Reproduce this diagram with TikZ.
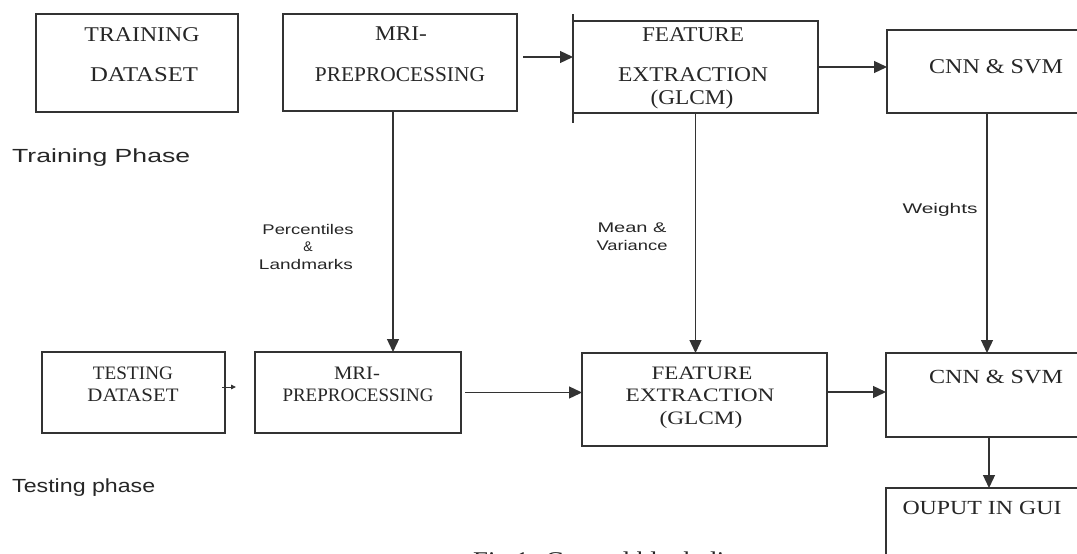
\documentclass[tikz,border=0pt]{standalone}
\usepackage{fontspec}
\setmainfont{Liberation Serif}
\newfontfamily\lsans{Liberation Sans}
\usetikzlibrary{arrows.meta}
\newcommand\fw[2]{\resizebox{#1pt}{\height}{#2}}
\definecolor{lnc}{HTML}{333333}
\definecolor{txc}{HTML}{262626}
\begin{document}
\begin{tikzpicture}[x=1pt,y=1pt,
  box/.style={draw=lnc, line width=1.3pt, inner sep=0pt, outer sep=0pt, anchor=north west},
  conn/.style={draw=lnc, line width=1.3pt},
  arr/.style={conn, -{Triangle[length=13pt,width=12pt]}},
  bigt/.style={font=\fontsize{21}{21}\selectfont, text=txc, inner sep=0pt, anchor=base},
  smt/.style={font=\fontsize{19}{19}\selectfont, text=txc, inner sep=0pt, anchor=base},
  phase/.style={font=\lsans\fontsize{19}{19}\selectfont, text=txc, inner sep=0pt, anchor=base west},
  lbl/.style={font=\lsans\fontsize{14}{14}\selectfont, text=txc, inner sep=0pt, anchor=base}]
\useasboundingbox (0,0) rectangle (1077,-554);
\clip (0,0) rectangle (1077,-554);

% boxes
\node[box, minimum width=202pt, minimum height=98pt] (trainbox) at (36,-14) {};
\node[box, minimum width=234pt, minimum height=97pt] (mri1) at (283,-14) {};
\node[box, minimum width=245pt, minimum height=92pt] (feat1) at (573,-21) {};
\node[box, minimum width=200pt, minimum height=83pt] (cnn1) at (887,-30) {};
\node[box, minimum width=183pt, minimum height=81pt] (testbox) at (42,-352) {};
\node[box, minimum width=206pt, minimum height=81pt] (mri2) at (255,-352) {};
\node[box, minimum width=245pt, minimum height=93pt] (feat2) at (582,-353) {};
\node[box, minimum width=200pt, minimum height=84pt] (cnn2) at (886,-353) {};
\node[box, minimum width=200pt, minimum height=80pt] (outbox) at (886,-488) {};
\draw[conn] ([yshift=7pt]feat1.north west) -- ([yshift=-10pt]feat1.south west);

% box texts, top row
\node[bigt] (t1) at (142,-41) {\fw{115}{TRAINING}};
\node[bigt] (t2) at (144,-81) {\fw{108}{DATASET}};
\node[bigt] (t3) at (401,-41) {\fw{52}{MRI-}};
\node[bigt] (t4) at (400,-81) {\fw{170}{PREPROCESSING}};
\node[bigt] (t5) at (693,-41) {\fw{102}{FEATURE}};
\node[bigt] (t6) at (693,-81) {\fw{150}{EXTRACTION}};
\node[bigt] (t7) at (692,-104.5) {\fw{83}{(GLCM)}};
\node[bigt] (t8) at (996,-73) {\fw{134}{CNN \& SVM}};

% box texts, bottom row
\node[smt] (b1) at (133,-379) {\fw{80}{TESTING}};
\node[smt] (b2) at (133,-401) {\fw{91}{DATASET}};
\node[smt] (b3) at (357,-379) {\fw{46}{MRI-}};
\node[smt] (b4) at (358,-401) {\fw{151}{PREPROCESSING}};
\node[smt] (b5) at (702,-379) {\fw{101}{FEATURE}};
\node[smt] (b6) at (700,-401) {\fw{149}{EXTRACTION}};
\node[smt] (b7) at (701,-424) {\fw{83}{(GLCM)}};
\node[smt, font=\fontsize{20}{20}\selectfont] (b8) at (996,-383) {\fw{134}{CNN \& SVM}};
\node[smt, font=\fontsize{20}{20}\selectfont] (b9) at (982,-514) {\fw{159}{OUPUT IN GUI}};

% connectors
\draw[arr] ([xshift=6pt,yshift=5.5pt]mri1.east) -- ([yshift=5.5pt]mri1.east -| feat1.west);
\draw[arr] (feat1.east) -- (feat1.east -| cnn1.west);
\draw[arr] ([xshift=-7pt]mri1.south) -- ([xshift=-7pt]mri1.south |- mri2.north);
\draw[arr] (feat1.south) -- (feat1.south |- feat2.north);
\draw[arr] (cnn1.south) -- (cnn1.south |- cnn2.north);
\draw[arr] ([xshift=3pt]cnn2.south) -- ([xshift=3pt]cnn2.south |- outbox.north);
\coordinate (tarr) at (236,-387);
\draw[conn, line width=0.9pt, -{Triangle[length=5pt,width=4.5pt]}] ([xshift=-3pt,yshift=5.5pt]testbox.east) -- (tarr);
\draw[arr] ([xshift=4pt]mri2.east) -- (mri2.east -| feat2.west);
\draw[arr] ([yshift=7.5pt]feat2.east) -- ([yshift=7.5pt]feat2.east -| cnn2.west);

% labels
\node[phase] (ph1) at (12,-162) {\fw{178}{Training Phase}};
\node[phase] (ph2) at (12,-492) {\fw{143}{Testing phase}};
\node[lbl] (l1) at (308,-234) {\fw{91}{Percentiles}};
\node[lbl] (l2) at (308,-251) {\&};
\node[lbl] (l3) at (306,-269) {\fw{94}{Landmarks}};
\node[lbl] (l4) at (632,-232) {\fw{69}{Mean \&}};
\node[lbl] (l5) at (632,-250) {\fw{71}{Variance}};
\node[lbl] (l6) at (940,-213) {\fw{75}{Weights}};

% caption (cut by the lower edge, as in the reference)
\node[font=\fontsize{24}{24}\selectfont, text=txc, inner sep=0pt, anchor=base west] (cap) at (473,-568) {\fw{318}{Fig 1: General block diagram}};
\end{tikzpicture}
\end{document}
